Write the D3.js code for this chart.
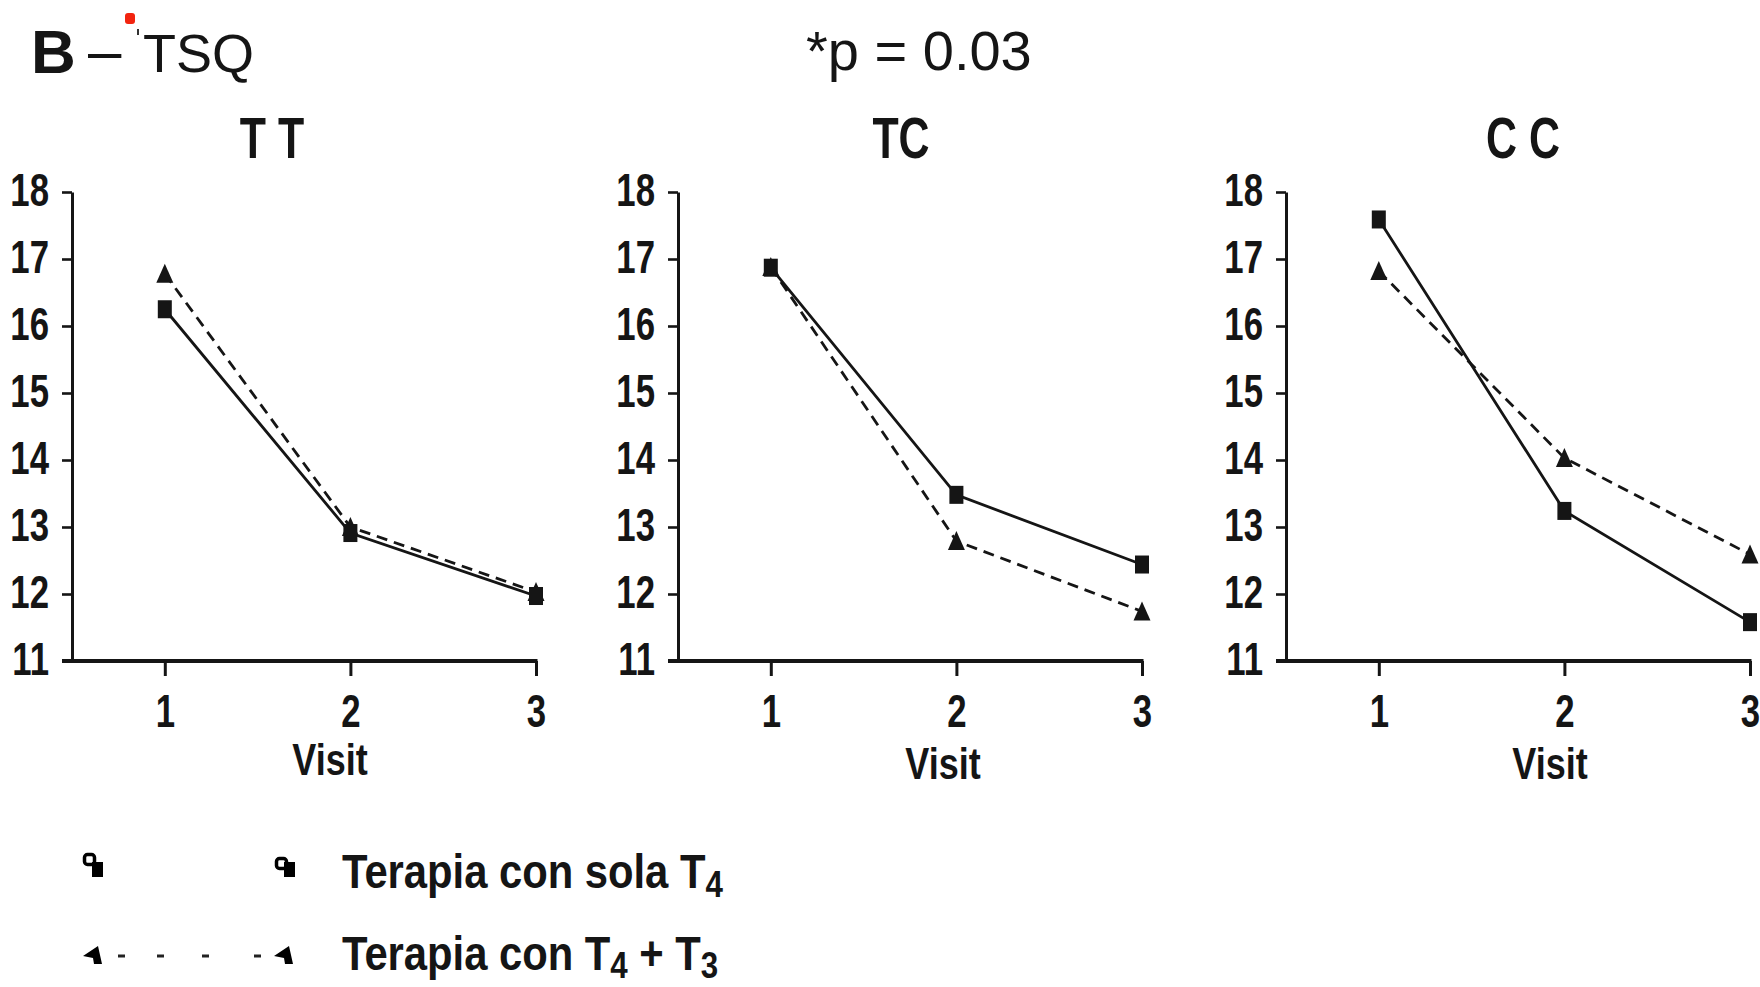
<!DOCTYPE html>
<html>
<head>
<meta charset="utf-8">
<script src="https://cdn.jsdelivr.net/npm/d3@7/dist/d3.min.js"></script>
<style>
  html, body { margin: 0; padding: 0; background: #fff; }
  svg { display: block; }
  text { font-family: "Liberation Sans", Arial, Helvetica, sans-serif; fill: #151515; }
</style>
</head>
<body>
<svg id="chart" width="1760" height="987"></svg>
<script>
// TSQ score by visit, per genotype, for the two therapy groups
const visits = [1, 2, 3];
const genotypes = ["T T", "TC", "C C"];
const soloT4 = [
  [16.25, 12.91, 11.97],
  [16.87, 13.48, 12.44],
  [17.59, 13.24, 11.58]
];
const t4PlusT3 = [
  [16.78, 13.00, 12.03],
  [16.88, 12.79, 11.74],
  [16.82, 14.03, 12.59]
];
const yTickValues = [11, 12, 13, 14, 15, 16, 17, 18];
const seriesNames = ["Terapia con sola T", "Terapia con T"];

// layout
const panelLeft = [72, 678, 1286];
const plotW = 464;
const plotTop = 192, plotBottom = 661;
const titleX = [272, 901, 1523];
const visitLabelX = [330, 943, 1550];
const visitLabelY = [775, 779, 779];
const narrow = 0.74;          // horizontal squeeze for the condensed bold face
const ink = "#151515";

const svg = d3.select("#chart");

const y = d3.scaleLinear().domain([11, 18]).range([plotBottom, plotTop]);

// header
svg.append("text").attr("x", 31).attr("y", 73)
  .attr("font-size", 62).attr("font-weight", "bold").text("B");
svg.append("text").attr("x", 88).attr("y", 71)
  .attr("font-size", 60).attr("fill", "#222").text("–");
svg.append("rect").attr("x", 125).attr("y", 13).attr("width", 10).attr("height", 11)
  .attr("rx", 3).attr("fill", "#f2240f");
svg.append("rect").attr("x", 137).attr("y", 29).attr("width", 2).attr("height", 6)
  .attr("fill", "#333");
svg.append("text").attr("x", 143).attr("y", 72)
  .attr("font-size", 54).attr("fill", "#222").text("TSQ");
svg.append("text").attr("x", 806).attr("y", 70)
  .attr("font-size", 56).attr("fill", "#222").text("*p = 0.03");

const triangle = "M0,-10L8.5,9L-8.5,9Z";

genotypes.forEach((g, i) => {
  const left = panelLeft[i];
  const x = d3.scaleLinear().domain([0.5, 3]).range([left, left + plotW]);
  const panel = svg.append("g");

  // genotype title
  panel.append("g").attr("transform", `translate(${titleX[i]},158) scale(${narrow},1)`)
    .append("text").attr("text-anchor", "middle")
    .attr("font-size", 58).attr("font-weight", "bold").text(g);

  // y axis
  const yAxis = panel.append("g").attr("transform", `translate(${left},0)`)
    .call(d3.axisLeft(y).tickValues(yTickValues).tickFormat(d3.format("d"))
      .tickSize(10).tickSizeOuter(0).tickPadding(0));
  yAxis.select(".domain").attr("stroke", ink).attr("stroke-width", 3);
  yAxis.selectAll(".tick line").attr("stroke", ink).attr("stroke-width", 2.6);
  yAxis.selectAll(".tick text")
    .attr("x", -23 / narrow).attr("dy", "0.28em")
    .attr("transform", `scale(${narrow},1)`)
    .attr("font-size", 47).attr("font-weight", "bold")
    .attr("font-family", "'Liberation Sans', Arial, sans-serif")
    .attr("fill", ink);

  // x axis
  const xAxis = panel.append("g").attr("transform", `translate(0,${plotBottom})`)
    .call(d3.axisBottom(x).tickValues(visits).tickSize(15).tickSizeOuter(0).tickFormat(d3.format("d")));
  xAxis.select(".domain").attr("d", `M${left - 10},0H${x(3) + 1.5}`)
    .attr("stroke", ink).attr("stroke-width", 4);
  xAxis.selectAll(".tick line").attr("stroke", ink).attr("stroke-width", 3);
  xAxis.selectAll(".tick text")
    .attr("x", 0).attr("y", 66).attr("dy", 0)
    .attr("transform", `scale(${narrow},1)`)
    .attr("font-size", 47).attr("font-weight", "bold")
    .attr("font-family", "'Liberation Sans', Arial, sans-serif")
    .attr("fill", ink);

  panel.append("g").attr("transform", `translate(${visitLabelX[i]},${visitLabelY[i]}) scale(0.8,1)`)
    .append("text").attr("text-anchor", "middle")
    .attr("font-size", 45).attr("font-weight", "bold").attr("fill", "#222").text("Visit");

  const line = d3.line().x((d, k) => x(visits[k])).y(d => y(d));

  // T4 + T3: dashed line with triangles
  panel.append("path").datum(t4PlusT3[i])
    .attr("d", line).attr("fill", "none").attr("stroke", ink)
    .attr("stroke-width", 2.8).attr("stroke-dasharray", "11,7");
  panel.selectAll(".tri").data(t4PlusT3[i]).join("path")
    .attr("class", "tri")
    .attr("transform", (d, k) => `translate(${x(visits[k])},${y(d)})`)
    .attr("d", triangle).attr("fill", ink);

  // T4 alone: solid line with squares
  panel.append("path").datum(soloT4[i])
    .attr("d", line).attr("fill", "none").attr("stroke", ink).attr("stroke-width", 2.8);
  panel.selectAll(".sq").data(soloT4[i]).join("rect")
    .attr("class", "sq")
    .attr("x", (d, k) => x(visits[k]) - 7).attr("y", d => y(d) - 9)
    .attr("width", 14).attr("height", 18).attr("fill", ink);
});

// legend
const legend = svg.append("g");
const legRows = [866, 955];

// square symbols (solid series)
[83, 275].forEach((lx, j) => {
  const dy = j === 0 ? 0 : 4;
  legend.append("rect").attr("x", lx + 1.5).attr("y", 854.5 + dy).attr("width", 10).attr("height", 10)
    .attr("rx", 3).attr("fill", "none").attr("stroke", "#000").attr("stroke-width", 3.5);
  legend.append("rect").attr("x", lx + 9).attr("y", 862).attr("width", 11).attr("height", 15)
    .attr("fill", "#000");
});

// triangle symbols and dashes (dashed series)
[83, 274].forEach(lx => {
  legend.append("path")
    .attr("d", `M${lx},${legRows[1] + 1}L${lx + 15},${legRows[1] - 9}L${lx + 19},${legRows[1] + 9}L${lx + 11},${legRows[1] + 9}L${lx + 10},${legRows[1] + 3}Z`)
    .attr("fill", "#000");
});
legend.append("path")
  .attr("d", `M118,${legRows[1] + 1}H265`)
  .attr("stroke", "#222").attr("stroke-width", 3).attr("stroke-dasharray", "7,32,7,38,7,45,7,40");

const legText = (yy, parts) => {
  const t = legend.append("g").attr("transform", `translate(342,${yy}) scale(0.87,1)`)
    .append("text").attr("font-size", 48).attr("font-weight", "bold").attr("fill", "#000");
  parts.forEach(p => {
    t.append("tspan").text(p.s)
      .attr("font-size", p.sub ? 36 : 48)
      .attr("dy", p.dy || 0);
  });
};
legText(888, [{ s: seriesNames[0] }, { s: "4", sub: true, dy: 9 }]);
legText(970, [{ s: seriesNames[1] }, { s: "4", sub: true, dy: 8 }, { s: " + T", dy: -8 }, { s: "3", sub: true, dy: 8 }]);
</script>
</body>
</html>
